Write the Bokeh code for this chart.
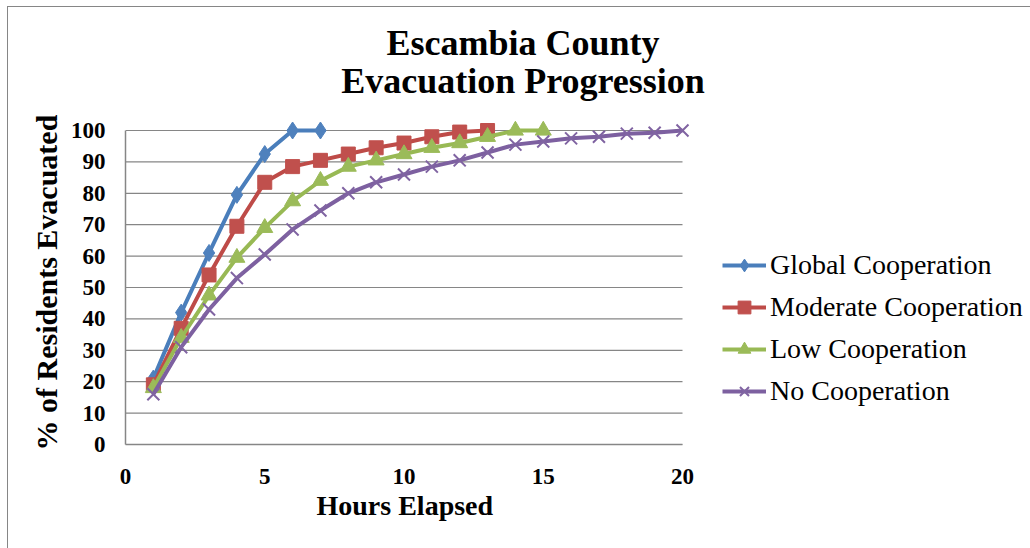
from bokeh.plotting import figure
from bokeh.models import Range1d, FixedTicker, Legend, LegendItem, Label, Title
from bokeh.embed import file_html
from bokeh.resources import INLINE

# ---- data ----
hours_global = [1, 2, 3, 4, 5, 6, 7]
global_coop = [21, 42, 61, 79.5, 92.5, 100, 100]

hours_moderate = [1, 2, 3, 4, 5, 6, 7, 8, 9, 10, 11, 12, 13]
moderate_coop = [19, 37, 54, 69.5, 83.5, 88.5, 90.5, 92.5, 94.5, 96, 98, 99.5, 100]

hours_low = [1, 2, 3, 4, 5, 6, 7, 8, 9, 10, 11, 12, 13, 14, 15]
low_coop = [18, 34, 47.5, 59.5, 69, 77.5, 84, 88.5, 90.5, 92.5, 94.5, 96, 98, 100, 100]

hours_none = [1, 2, 3, 4, 5, 6, 7, 8, 9, 10, 11, 12, 13, 14, 15, 16, 17, 18, 19, 20]
no_coop = [16, 31, 43, 53, 60.5, 68.5, 74.5, 80, 83.5, 86, 88.5, 90.5, 93, 95.5, 96.5,
           97.5, 98, 99, 99.3, 100]

series_names = ["Global Cooperation", "Moderate Cooperation", "Low Cooperation", "No Cooperation"]
x_ticks = [0, 5, 10, 15, 20]
y_ticks = [0, 10, 20, 30, 40, 50, 60, 70, 80, 90, 100]
title_lines = ["Escambia County", "Evacuation Progression"]
x_title = "Hours Elapsed"
y_title = "% of Residents Evacuated"

FONT = "Liberation Serif"
GRID = "#868686"

# layout geometry (pixels)
W, H = 1023, 542
LEFT, BOTTOM = 117, 105
PX_PER_HOUR = 557 / 20.0
PX_PER_PCT = 314 / 100.0
frame_w = W - LEFT
frame_h = H - BOTTOM

p = figure(width=W, height=H, title=None,
           x_range=Range1d(0, frame_w / PX_PER_HOUR),
           y_range=Range1d(0, frame_h / PX_PER_PCT),
           output_backend="svg", toolbar_location=None,
           min_border_left=LEFT, min_border_right=0,
           min_border_top=0, min_border_bottom=BOTTOM,
           margin=(6, 0, 0, 7),
           styles={"border-top": "1px solid #868686", "border-left": "1px solid #868686"},
           background_fill_color="white", border_fill_color="white",
           outline_line_color=None)

# axes
for ax in (p.xaxis[0], p.yaxis[0]):
    ax.axis_line_color = GRID
    ax.axis_line_width = 1.5
    ax.major_tick_line_color = None
    ax.minor_tick_line_color = None
    ax.major_label_text_font = FONT
    ax.major_label_text_font_style = "bold"
    ax.major_label_text_font_size = "23px"
    ax.major_label_text_color = "black"

p.xaxis.ticker = FixedTicker(ticks=x_ticks)
p.yaxis.ticker = FixedTicker(ticks=y_ticks)
p.xaxis.bounds = (x_ticks[0], x_ticks[-1])
p.yaxis.bounds = (y_ticks[0], y_ticks[-1])
p.xaxis.major_label_standoff = 18
p.yaxis.major_label_standoff = 14

# axis titles centred on the 0-20 / 0-100 spans
p.add_layout(Title(text=x_title, align="left", offset=191, vertical_align="top",
                   standoff=6, text_font=FONT, text_font_size="28px",
                   text_font_style="bold", text_color="black"), "below")
p.add_layout(Title(text=y_title, align="left", offset=-6, vertical_align="bottom",
                   standoff=10, text_font=FONT, text_font_size="30px",
                   text_font_style="bold", text_color="black"), "left")

# horizontal gridlines only across the 0-20 hour span
p.xgrid.grid_line_color = None
p.ygrid.grid_line_color = None
p.segment(x0=[x_ticks[0]] * len(y_ticks), x1=[x_ticks[-1]] * len(y_ticks),
          y0=y_ticks, y1=y_ticks, line_color=GRID, line_width=1.2)

# series
styles = [
    (hours_global, global_coop, "#4A7EBB", "#4F81BD", "diamond", 17),
    (hours_moderate, moderate_coop, "#BE4B48", "#C0504D", "square", 14),
    (hours_low, low_coop, "#98B954", "#9BBB59", "triangle", 16),
    (hours_none, no_coop, "#7D60A0", "#8064A2", "x", 17),
]
items = []
for name, (xs, ys, lc, mc, mk, sz) in zip(series_names, styles):
    lr = p.line(xs, ys, line_color=lc, line_width=4)
    if mk == "x":
        sr = p.scatter(xs, ys, marker="x", size=sz, line_color=mc, line_width=2)
    else:
        sr = p.scatter(xs, ys, marker=mk, size=sz, fill_color=mc,
                       line_color=mc, line_width=1)
    items.append(LegendItem(label=name, renderers=[lr, sr]))

legend = Legend(items=items, location=(597, 37),
                glyph_width=44, glyph_height=32, label_height=32,
                spacing=10, padding=0, margin=0, label_standoff=4,
                label_text_font=FONT, label_text_font_size="28px",
                label_text_color="black",
                border_line_color=None, background_fill_alpha=0)
p.add_layout(legend, "center")

# two-line title, centred over the whole chart
for txt, yy in zip(title_lines, [402, 364]):
    p.add_layout(Label(x=397.5, y=yy, x_units="screen", y_units="screen", text=txt,
                       text_align="center", text_baseline="middle",
                       text_font=FONT, text_font_size="36px", text_font_style="bold",
                       text_color="black"))

open("out.html", "w").write(file_html(p, INLINE))
